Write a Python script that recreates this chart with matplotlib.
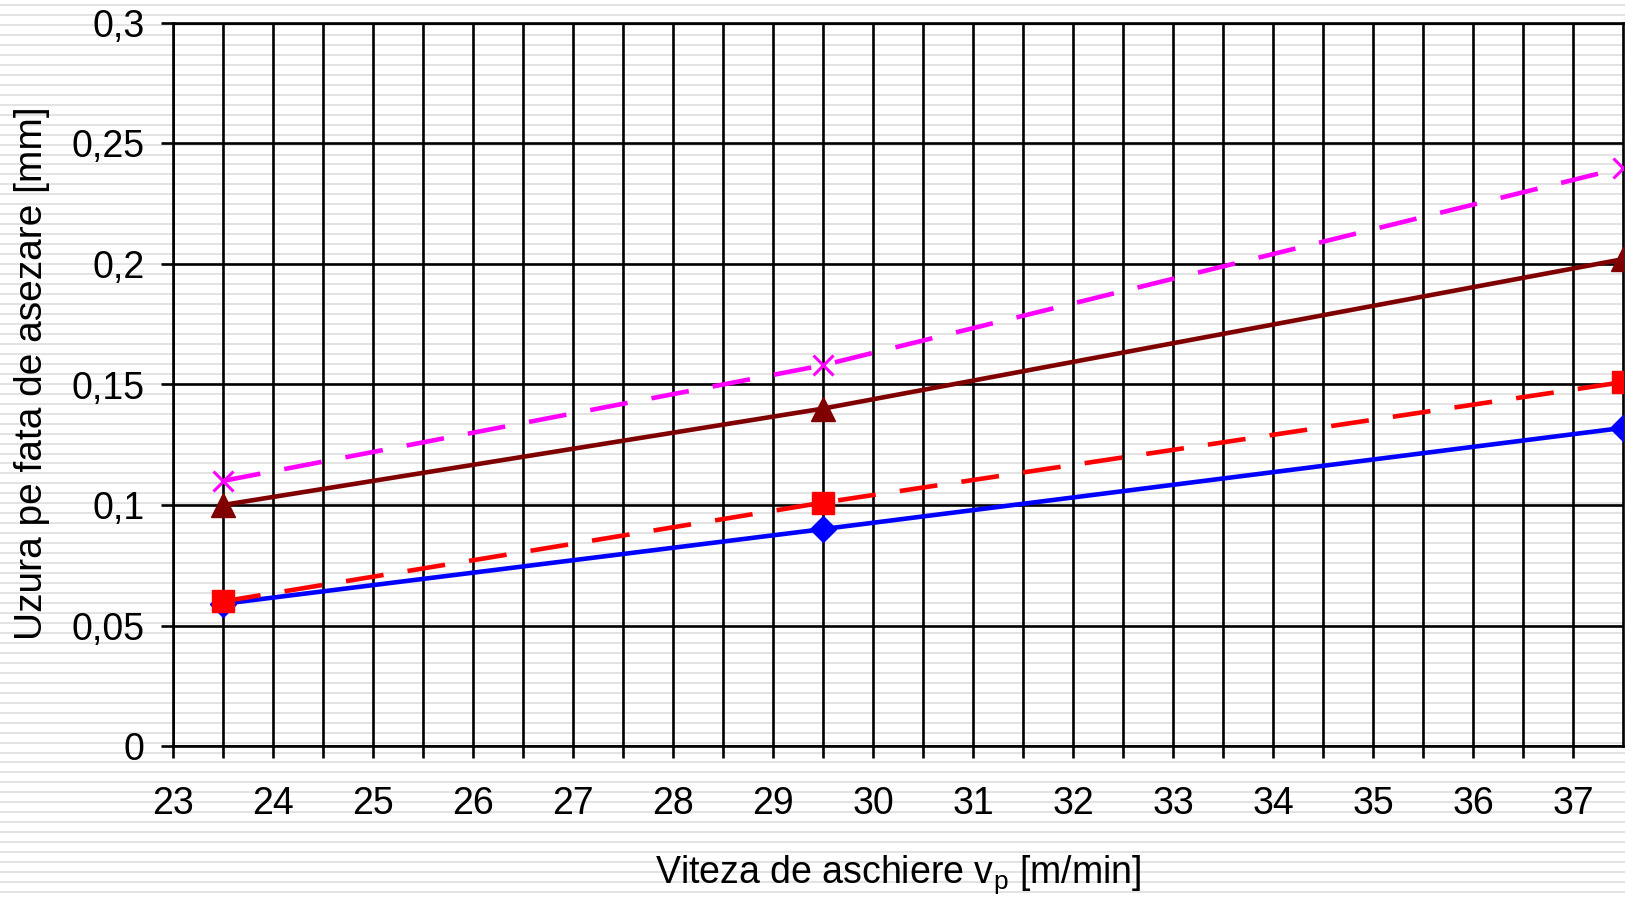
import numpy as np
import matplotlib
matplotlib.use('Agg')
import matplotlib.pyplot as plt

plt.rcParams['font.family'] = ['Liberation Sans', 'DejaVu Sans']

# date
viteza = [23.5, 29.5, 37.5]
uzura_albastru = [0.059, 0.090, 0.132]
uzura_rosu = [0.060, 0.101, 0.151]
uzura_maro = [0.100, 0.140, 0.202]
uzura_magenta = [0.110, 0.158, 0.240]

y_ticks = [0, 0.05, 0.1, 0.15, 0.2, 0.25, 0.3]
y_labels = ['0', '0,05', '0,1', '0,15', '0,2', '0,25', '0,3']
x_ticks = list(range(23, 38))
x_minor = [v + 0.5 for v in range(23, 37)]

fig = plt.figure(figsize=(16.25, 8.97), dpi=100)
fig.patch.set_facecolor('white')

# fundal cu dungi orizontale
bg = fig.add_axes([0, 0, 1, 1], zorder=0)
bg.set_axis_off()
bg.set_xlim(0, 1)
bg.set_ylim(897, 0)
for yy in np.arange(5, 897, 9.967):
    bg.axhline(yy, color='#e3e3e3', lw=1.4)

ax = fig.add_axes([173 / 1625, 151 / 897, 1450 / 1625, 723 / 897], zorder=1)
ax.set_facecolor('none')

lw = 3.3
ax.plot(viteza, uzura_albastru, color='#0000ff', lw=lw, marker='D', ms=13.5,
        mec='#0000ff', zorder=3)
ax.plot(viteza, uzura_rosu, color='#ff0000', lw=lw, dashes=(8.3, 5.3), marker='s',
        ms=16, mec='#ff0000', zorder=4)
ax.plot(viteza, uzura_maro, color='#800000', lw=lw, marker='^', ms=17.5,
        mec='#800000', zorder=5)
ax.plot(viteza, uzura_magenta, color='#ff00ff', lw=lw, dashes=(8.3, 5.3), marker='x',
        ms=14.5, mew=2.2, mec='#ff00ff', zorder=6)

ax.set_xlim(23, 37.5)
ax.set_ylim(0, 0.3)
ax.set_xticks(x_ticks)
ax.set_xticklabels([str(v) for v in x_ticks])
ax.set_xticks(x_minor, minor=True)
ax.set_yticks(y_ticks)
ax.set_yticklabels(y_labels)

ax.grid(True, which='both', color='black', lw=1.9, zorder=1)
ax.set_axisbelow(True)
for s in ax.spines.values():
    s.set_color('black')
    s.set_linewidth(1.9)

ax.tick_params(axis='both', which='both', direction='out', length=8.6, width=1.9,
               color='black')
ax.tick_params(axis='x', which='major', pad=20, labelsize=27)
ax.tick_params(axis='y', which='major', pad=12, labelsize=27)

ax.set_xlabel('Viteza de aschiere v$_\\mathregular{p}$ [m/min]', fontsize=27)
ax.xaxis.set_label_coords(0.5, -0.148)
ax.set_ylabel('Uzura pe fata de asezare [mm]', fontsize=28)
ax.yaxis.set_label_coords(-0.0848, 0.516)

fig.savefig('out.png', dpi=100)
